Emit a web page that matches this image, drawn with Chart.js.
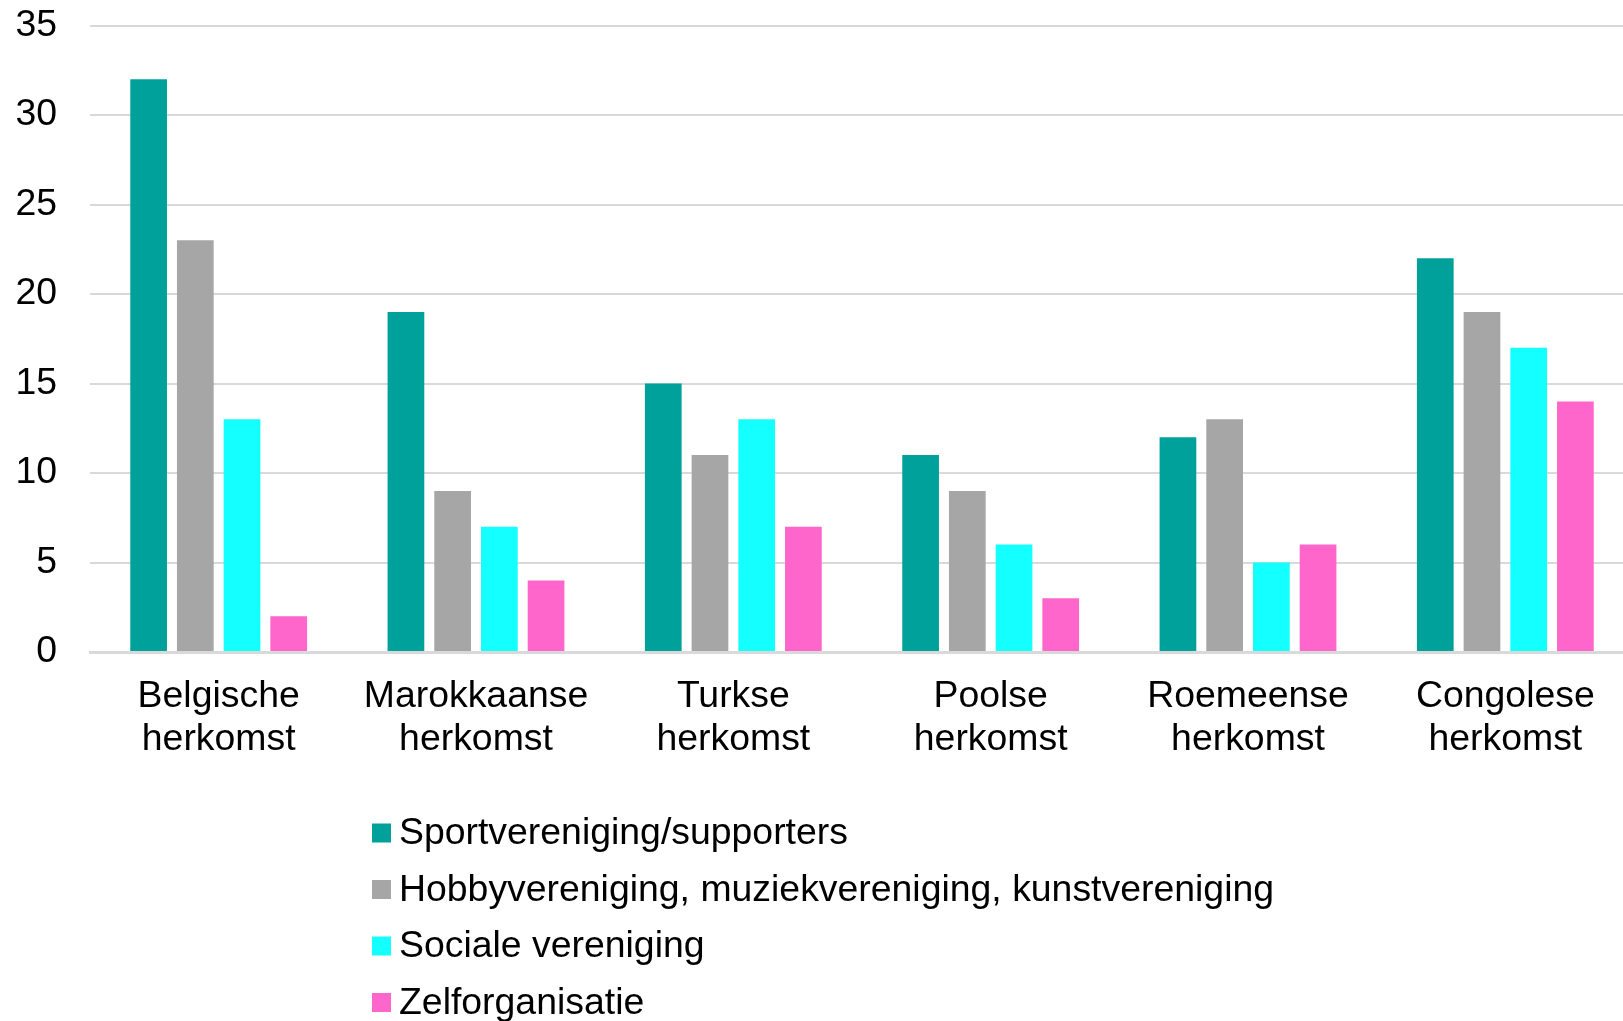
<!DOCTYPE html>
<html>
<head>
<meta charset="utf-8">
<script src="https://cdn.jsdelivr.net/npm/chart.js@4"></script>
<style>
  html, body { margin: 0; padding: 0; background: #fff; overflow: hidden; }
  #wrap { position: relative; width: 1634px; height: 1021px; }
</style>
</head>
<body>
<div id="wrap"><canvas id="chart"></canvas></div>
<script>
const categories = [
  ['Belgische', 'herkomst'],
  ['Marokkaanse', 'herkomst'],
  ['Turkse', 'herkomst'],
  ['Poolse', 'herkomst'],
  ['Roemeense', 'herkomst'],
  ['Congolese', 'herkomst']
];
const seriesNames = [
  'Sportvereniging/supporters',
  'Hobbyvereniging, muziekvereniging, kunstvereniging',
  'Sociale vereniging',
  'Zelforganisatie'
];
const sport = [32, 19, 15, 11, 12, 22];
const hobby = [23, 9, 11, 9, 13, 19];
const sociaal = [13, 7, 13, 6, 5, 17];
const zelf = [2, 4, 7, 3, 6, 14];
const yTicks = [0, 5, 10, 15, 20, 25, 30, 35];

const colors = ['#00A19A', '#A6A6A6', '#14FFFF', '#FF66CC'];
const fontFamily = '"Liberation Sans", Arial, Helvetica, sans-serif';

// legend stacked vertically under the chart, drawn on the canvas
const columnLegend = {
  id: 'columnLegend',
  afterDraw(chart) {
    const ctx = chart.ctx;
    ctx.save();
    ctx.font = `37.4px ${fontFamily}`;
    ctx.textBaseline = 'middle';
    chart.data.datasets.forEach((ds, i) => {
      const y = 833 + i * 56.5;
      ctx.fillStyle = ds.backgroundColor;
      ctx.fillRect(372, y - 9.5, 19, 19);
      ctx.fillStyle = '#000';
      ctx.fillText(ds.label, 399, y + 1);
    });
    ctx.restore();
  }
};

const series = [sport, hobby, sociaal, zelf];

new Chart(document.getElementById('chart'), {
  type: 'bar',
  data: {
    labels: categories,
    datasets: series.map((values, i) => ({
      label: seriesNames[i],
      data: values,
      backgroundColor: colors[i],
      categoryPercentage: 0.726,
      barPercentage: 0.786
    }))
  },
  options: {
    responsive: true,
    maintainAspectRatio: false,
    animation: false,
    layout: { padding: { top: 25.5, left: 0, right: 0, bottom: 249 } },
    plugins: {
      legend: { display: false },
      tooltip: { enabled: false }
    },
    scales: {
      x: {
        grid: { display: false, drawTicks: false },
        border: { display: true, color: '#D9D9D9', width: 3 },
        ticks: {
          color: '#000',
          padding: 23,
          font: { family: fontFamily, size: 37.4, lineHeight: 1.15 }
        },
        afterFit: s => { s.height = 120; }
      },
      y: {
        min: 0,
        max: 35,
        afterBuildTicks: s => { s.ticks = yTicks.map(v => ({ value: v })); },
        grid: { color: '#D9D9D9', lineWidth: 2, drawTicks: false },
        border: { display: false },
        ticks: {
          color: '#000',
          padding: 33,
          font: { family: fontFamily, size: 37.4 }
        },
        afterFit: s => {
          s.width = 90;
          s.paddingTop = 0;
          s.paddingBottom = 0;
        }
      }
    }
  },
  plugins: [columnLegend]
});
</script>
</body>
</html>
